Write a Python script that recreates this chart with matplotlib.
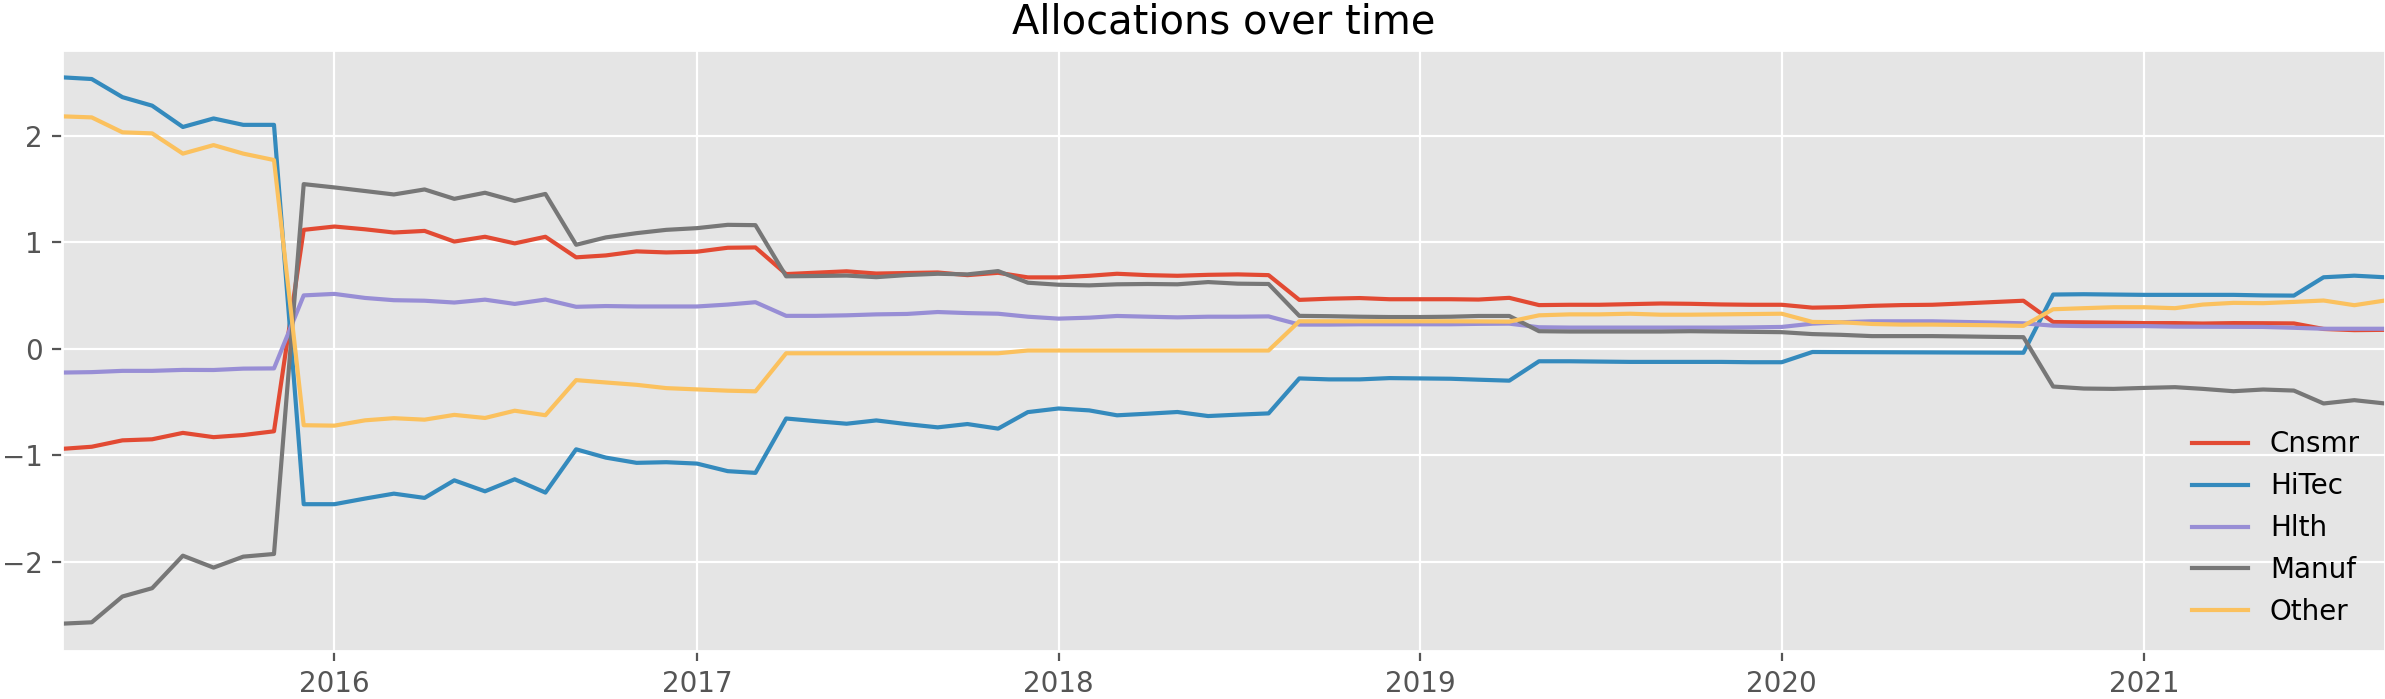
import matplotlib
matplotlib.use("Agg")
import matplotlib.pyplot as plt
import matplotlib.dates as mdates
import pandas as pd

plt.style.use("ggplot")

dates = pd.date_range("2015-04-01", "2021-09-01", freq="MS")

cnsmr = [-0.94, -0.92, -0.86, -0.85, -0.79, -0.83, -0.81, -0.775,
         1.115, 1.146, 1.12, 1.09, 1.105, 1.005, 1.05, 0.988, 1.05,
         0.857, 0.875, 0.913, 0.903, 0.91, 0.947, 0.95,
         0.70, 0.713, 0.726, 0.705, 0.71, 0.715, 0.69, 0.712,
         0.669, 0.669, 0.684, 0.703, 0.69, 0.684, 0.693, 0.697, 0.69,
         0.458, 0.469, 0.475, 0.464, 0.464, 0.464, 0.461, 0.477,
         0.409, 0.412, 0.412, 0.418, 0.424, 0.421, 0.415, 0.412, 0.412,
         0.385, 0.39, 0.402, 0.409, 0.412, 0.424, 0.437, 0.45,
         0.25, 0.247, 0.244, 0.24, 0.24, 0.236, 0.24, 0.239, 0.237,
         0.185, 0.174, 0.177]

hitec = [2.546, 2.53, 2.36, 2.28, 2.08, 2.16, 2.10, 2.10,
         -1.459, -1.459, -1.406, -1.36, -1.40, -1.235, -1.338, -1.225, -1.35,
         -0.944, -1.022, -1.071, -1.065, -1.078, -1.149, -1.165,
         -0.655, -0.68, -0.704, -0.673, -0.708, -0.738, -0.707, -0.75,
         -0.595, -0.561, -0.579, -0.625, -0.61, -0.594, -0.632, -0.619, -0.607,
         -0.279, -0.288, -0.288, -0.276, -0.279, -0.282, -0.291, -0.30,
         -0.118, -0.118, -0.121, -0.124, -0.124, -0.124, -0.124, -0.127, -0.127,
         -0.031, -0.032, -0.033, -0.034, -0.035, -0.036, -0.037, -0.038,
         0.508, 0.511, 0.508, 0.505, 0.505, 0.505, 0.505, 0.50, 0.498,
         0.67, 0.685, 0.67]

hlth = [-0.224, -0.22, -0.208, -0.208, -0.199, -0.2, -0.187, -0.185,
        0.50, 0.514, 0.476, 0.455, 0.45, 0.433, 0.46, 0.42, 0.461,
        0.393, 0.40, 0.396, 0.396, 0.396, 0.414, 0.436,
        0.308, 0.308, 0.313, 0.322, 0.326, 0.344, 0.334, 0.328,
        0.30, 0.282, 0.291, 0.307, 0.30, 0.294, 0.30, 0.30, 0.303,
        0.226, 0.226, 0.229, 0.229, 0.229, 0.229, 0.233, 0.235,
        0.201, 0.198, 0.198, 0.198, 0.198, 0.198, 0.198, 0.2, 0.204,
        0.235, 0.248, 0.257, 0.257, 0.257, 0.251, 0.245, 0.238,
        0.216, 0.212, 0.212, 0.212, 0.207, 0.206, 0.205, 0.204, 0.196,
        0.187, 0.187, 0.187]

manuf = [-2.58, -2.567, -2.325, -2.247, -1.942, -2.054, -1.951, -1.926,
         1.544, 1.513, 1.479, 1.447, 1.494, 1.406, 1.463, 1.386, 1.452,
         0.975, 1.044, 1.084, 1.115, 1.131, 1.162, 1.159,
         0.679, 0.682, 0.686, 0.671, 0.691, 0.703, 0.697, 0.728,
         0.619, 0.60, 0.594, 0.604, 0.607, 0.604, 0.625, 0.61, 0.607,
         0.308, 0.305, 0.30, 0.297, 0.297, 0.30, 0.307, 0.307,
         0.164, 0.161, 0.161, 0.161, 0.161, 0.164, 0.161, 0.158, 0.155,
         0.137, 0.13, 0.118, 0.118, 0.118, 0.115, 0.111, 0.108,
         -0.355, -0.374, -0.377, -0.368, -0.361, -0.377, -0.399, -0.383, -0.393,
         -0.514, -0.483, -0.514]

other = [2.18, 2.17, 2.03, 2.02, 1.83, 1.91, 1.83, 1.77,
         -0.718, -0.722, -0.672, -0.652, -0.666, -0.621, -0.65, -0.582, -0.624,
         -0.295, -0.317, -0.339, -0.37, -0.382, -0.394, -0.40,
         -0.043, -0.043, -0.043, -0.043, -0.043, -0.043, -0.043, -0.043,
         -0.017, -0.017, -0.017, -0.017, -0.017, -0.017, -0.017, -0.017, -0.017,
         0.257, 0.257, 0.257, 0.257, 0.257, 0.257, 0.256, 0.254,
         0.313, 0.322, 0.322, 0.328, 0.319, 0.319, 0.322, 0.325, 0.328,
         0.251, 0.248, 0.232, 0.226, 0.226, 0.223, 0.22, 0.214,
         0.37, 0.38, 0.389, 0.389, 0.38, 0.414, 0.43, 0.427, 0.439,
         0.452, 0.408, 0.452]

series = {"Cnsmr": cnsmr, "HiTec": hitec, "Hlth": hlth, "Manuf": manuf, "Other": other}

W, H, DPI = 2385, 699, 200
fig = plt.figure(figsize=(W / DPI, H / DPI), dpi=DPI)
ax = fig.add_axes([62 / W, (H - 651) / H, (W - 62) / W, (651 - 50) / H])

for name, vals in series.items():
    ax.plot(dates, vals, label=name, linewidth=1.5)

ax.set_xlim(dates[0], dates[-1])
ax.xaxis.set_major_locator(mdates.YearLocator())
ax.xaxis.set_major_formatter(mdates.DateFormatter("%Y"))
ax.set_yticks([-2, -1, 0, 1, 2])
ax.set_title("Allocations over time", fontsize=14.4, color="black")
ax.legend(loc="lower right", frameon=False, fontsize=10)

fig.savefig("out.png", dpi=DPI)
